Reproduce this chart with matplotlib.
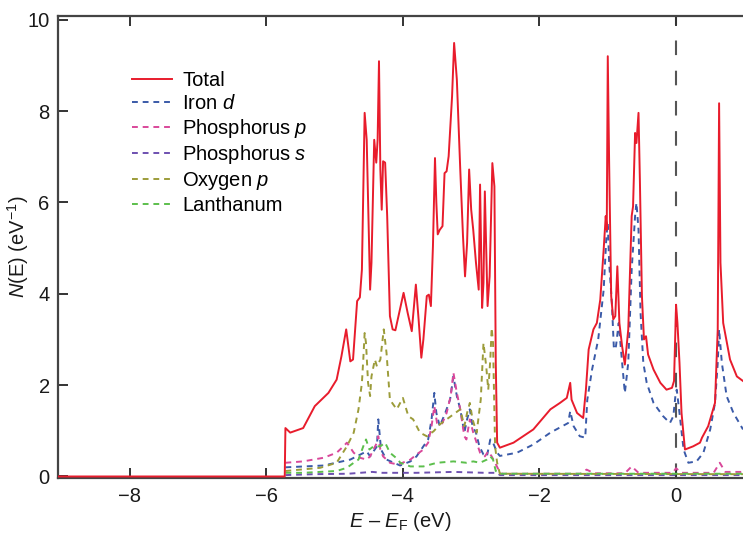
import matplotlib
matplotlib.use('Agg')
import matplotlib.pyplot as plt

plt.rcParams['font.family'] = ['Liberation Sans', 'DejaVu Sans']
plt.rcParams['mathtext.fontset'] = 'custom'
plt.rcParams['mathtext.rm'] = 'Liberation Sans'
plt.rcParams['mathtext.it'] = 'Liberation Sans:italic'

# Полная плотность состояний (Total)
tot_x = [-9.05, -5.73, -5.72, -5.65, -5.46, -5.29, -5.09, -4.97, -4.90, -4.83,
         -4.77, -4.73, -4.69, -4.67, -4.63, -4.60, -4.56, -4.53, -4.48, -4.46,
         -4.42, -4.39, -4.37, -4.35, -4.33, -4.31, -4.29, -4.26, -4.23, -4.19,
         -4.15, -4.11, -3.99, -3.93, -3.87, -3.81, -3.77, -3.73, -3.70, -3.65,
         -3.62, -3.59, -3.56, -3.53, -3.51, -3.49, -3.46, -3.42, -3.39, -3.36,
         -3.33, -3.28, -3.25, -3.21, -3.16, -3.12, -3.09, -3.06, -3.03, -3.00,
         -2.97, -2.93, -2.89, -2.87, -2.84, -2.82, -2.80, -2.76, -2.73, -2.69,
         -2.66, -2.64, -2.62, -2.58, -2.38, -2.09, -1.84, -1.70, -1.60, -1.55,
         -1.53, -1.45, -1.36, -1.32, -1.28, -1.21, -1.16, -1.11, -1.06, -1.03,
         -1.015, -1.00, -0.98, -0.95, -0.92, -0.89, -0.86, -0.83, -0.79, -0.75,
         -0.70, -0.65, -0.63, -0.60, -0.58, -0.55, -0.53, -0.50, -0.47, -0.44,
         -0.41, -0.33, -0.23, -0.14, -0.06, -0.03, 0.0, 0.02, 0.05, 0.08,
         0.13, 0.25, 0.35, 0.38, 0.47, 0.57, 0.61, 0.63, 0.65, 0.69,
         0.79, 0.89, 0.98]
tot_y = [0.0, 0.0, 1.06, 0.96, 1.06, 1.54, 1.83, 2.12, 2.63, 3.22,
         2.52, 2.56, 3.43, 3.84, 3.92, 4.53, 7.96, 7.37, 4.09, 4.68,
         7.37, 6.87, 7.37, 9.09, 6.72, 5.84, 6.90, 6.87, 5.70, 3.51,
         3.22, 3.20, 4.02, 3.58, 3.18, 4.20, 3.44, 2.60, 3.00, 3.95,
         3.98, 3.73, 5.04, 6.97, 5.99, 5.30, 5.40, 5.48, 6.64, 6.68,
         7.01, 8.32, 9.49, 8.69, 6.72, 5.26, 4.38, 5.11, 6.72, 5.84,
         5.40, 4.68, 4.09, 6.39, 3.69, 4.24, 6.24, 3.73, 4.38, 6.86,
         6.35, 2.49, 0.74, 0.63, 0.74, 1.03, 1.47, 1.61, 1.72, 2.05,
         1.68, 1.39, 1.28, 1.90, 2.78, 3.22, 3.36, 3.87, 4.97, 5.70,
         5.40, 9.20, 6.86, 3.95, 3.44, 3.51, 4.60, 3.36, 2.85, 2.45,
         3.22, 5.70, 5.91, 7.52, 7.30, 7.96, 6.50, 3.95, 3.00, 3.07,
         2.67, 2.34, 2.05, 1.90, 1.94, 2.09, 3.76, 3.36, 2.49, 1.39,
         0.59, 0.66, 0.74, 0.85, 1.10, 1.61, 3.22, 8.17, 4.68, 3.36,
         2.56, 2.19, 2.09]

# Iron d
fe_x = [-5.72, -5.16, -4.77, -4.53, -4.48, -4.38, -4.36, -4.32, -4.24, -4.04,
        -3.89, -3.80, -3.70, -3.63, -3.58, -3.54, -3.51, -3.46, -3.38, -3.31,
        -3.26, -3.21, -3.16, -3.10, -3.06, -3.02, -2.98, -2.93, -2.88, -2.82,
        -2.77, -2.72, -2.68, -2.62, -2.58, -2.33, -2.09, -1.84, -1.58, -1.55,
        -1.50, -1.41, -1.33, -1.30, -1.23, -1.14, -1.06, -1.02, -1.00, -0.98,
        -0.94, -0.91, -0.88, -0.84, -0.79, -0.75, -0.70, -0.65, -0.60, -0.58,
        -0.55, -0.52, -0.48, -0.43, -0.33, -0.19, -0.09, -0.04, -0.01, 0.01,
        0.05, 0.11, 0.18, 0.30, 0.40, 0.50, 0.57, 0.61, 0.63, 0.67,
        0.74, 0.84, 0.98]
fe_y = [0.20, 0.24, 0.37, 0.55, 0.44, 0.66, 1.25, 0.59, 0.37, 0.24,
        0.33, 0.44, 0.66, 0.81, 1.25, 1.83, 1.39, 1.10, 1.39, 1.68,
        2.19, 1.76, 1.47, 0.96, 1.25, 1.47, 1.10, 0.96, 0.66, 0.48,
        0.44, 0.81, 0.74, 0.52, 0.45, 0.52, 0.70, 0.96, 1.17, 1.43,
        1.10, 0.88, 0.85, 1.68, 2.34, 3.00, 4.09, 5.26, 5.55, 4.68,
        3.80, 2.78, 2.85, 3.36, 2.49, 1.83, 2.49, 4.53, 5.70, 5.99,
        5.40, 3.58, 2.49, 2.05, 1.61, 1.32, 1.17, 1.32, 1.76, 1.90,
        1.39, 0.59, 0.30, 0.33, 0.52, 1.03, 1.61, 2.49, 3.22, 2.49,
        1.76, 1.39, 1.03]

# Phosphorus p
pp_x = [-5.72, -5.46, -5.16, -4.97, -4.87, -4.82, -4.72, -4.63, -4.53, -4.48,
        -4.43, -4.38, -4.36, -4.33, -4.29, -4.19, -4.07, -3.89, -3.80, -3.70,
        -3.63, -3.58, -3.54, -3.50, -3.43, -3.36, -3.30, -3.26, -3.21, -3.16,
        -3.10, -3.07, -3.02, -2.97, -2.92, -2.87, -2.80, -2.75, -2.70, -2.65,
        -2.60, -2.55, -1.40, -1.31, -1.20, -0.75, -0.65, -0.55, -0.05, 0.0,
        0.08, 0.55, 0.64, 0.72, 0.98]
pp_y = [0.30, 0.33, 0.41, 0.52, 0.66, 0.74, 0.52, 0.41, 0.37, 0.44,
        0.59, 0.74, 0.88, 0.59, 0.44, 0.30, 0.26, 0.37, 0.48, 0.59,
        0.74, 1.10, 1.54, 1.17, 1.14, 1.39, 1.76, 2.27, 1.83, 1.47,
        0.88, 0.81, 1.25, 0.96, 0.74, 0.52, 0.44, 0.55, 0.44, 0.30,
        0.15, 0.06, 0.06, 0.15, 0.07, 0.07, 0.22, 0.08, 0.08, 0.18,
        0.08, 0.08, 0.30, 0.10, 0.10]

# Phosphorus s
ps_x = [-5.72, -5.30, -4.80, -4.45, -4.30, -3.80, -3.26, -2.80, -2.62, -2.58, 0.98]
ps_y = [0.03, 0.05, 0.06, 0.10, 0.08, 0.08, 0.10, 0.08, 0.08, 0.03, 0.03]

# Oxygen p
ox_x = [-5.72, -5.21, -4.97, -4.82, -4.72, -4.65, -4.60, -4.58, -4.56, -4.54,
        -4.51, -4.48, -4.46, -4.41, -4.38, -4.33, -4.28, -4.24, -4.19, -4.09,
        -4.00, -3.92, -3.85, -3.75, -3.65, -3.55, -3.46, -3.36, -3.26, -3.16,
        -3.10, -3.06, -3.02, -2.98, -2.92, -2.86, -2.82, -2.78, -2.75, -2.72,
        -2.70, -2.68, -2.65, -2.62, -2.58, 0.98]
ox_y = [0.12, 0.19, 0.30, 0.66, 0.96, 1.47, 2.05, 2.56, 3.14, 2.92,
        2.05, 1.76, 2.19, 2.56, 2.41, 2.56, 3.22, 2.71, 1.68, 1.47,
        1.72, 1.32, 1.25, 0.96, 0.88, 0.99, 1.14, 1.25, 1.36, 1.47,
        1.10, 1.39, 1.61, 1.25, 0.96, 1.68, 2.92, 2.41, 1.90, 2.56,
        3.25, 2.92, 0.66, 0.30, 0.06, 0.05]

# Lanthanum
la_x = [-5.72, -5.46, -4.97, -4.82, -4.72, -4.65, -4.58, -4.54, -4.49, -4.43,
        -4.33, -4.26, -4.19, -4.07, -4.04, -3.89, -3.70, -3.50, -3.26, -3.07,
        -2.97, -2.87, -2.77, -2.72, -2.68, -2.64, -2.58, 0.98]
la_y = [0.08, 0.08, 0.12, 0.19, 0.30, 0.37, 0.66, 0.81, 0.59, 0.66,
        0.66, 0.74, 0.52, 0.37, 0.30, 0.22, 0.22, 0.30, 0.33, 0.30,
        0.33, 0.30, 0.37, 0.44, 0.37, 0.12, 0.06, 0.06]

fig = plt.figure(figsize=(7.43, 5.34), dpi=100)
ax = fig.add_axes([58 / 743, 55.7 / 534, 685 / 743, 462.3 / 534])

dash = (3, 2.5)
ax.axvline(0, color='#555555', lw=1.5, dashes=(7, 7.5), zorder=1)
ax.plot(fe_x, fe_y, color='#3a5aa8', lw=1.4, dashes=dash, label='Iron $d$', zorder=3)
ax.plot(pp_x, pp_y, color='#d9489a', lw=1.4, dashes=dash, label='Phosphorus $p$', zorder=3)
ax.plot(ps_x, ps_y, color='#6e50b0', lw=1.4, dashes=dash, label='Phosphorus $s$', zorder=3)
ax.plot(ox_x, ox_y, color='#9c9c3a', lw=1.4, dashes=dash, label='Oxygen $p$', zorder=3)
ax.plot(la_x, la_y, color='#5cbf4c', lw=1.4, dashes=dash, label='Lanthanum', zorder=3)
ax.plot(tot_x, tot_y, color='#e81c2c', lw=1.4, label='Total', zorder=4)

ax.set_xlim(-9.05, 0.98)
ax.set_ylim(-0.04, 10.08)
ax.set_xticks([-8, -6, -4, -2, 0])
ax.set_xticklabels(['\u22128', '\u22126', '\u22124', '\u22122', '0'])
ax.set_yticks([0, 2, 4, 6, 8, 10])

for side in ['left', 'bottom', 'top']:
    ax.spines[side].set_color('#444444')
    ax.spines[side].set_linewidth(1.6)
ax.spines['right'].set_visible(False)

ax.tick_params(axis='both', direction='in', length=7, width=1.4, color='#333333',
               labelsize=14.5, labelcolor='#1a1a1a', pad=6)
ax.xaxis.set_tick_params(which='major', top=True, labeltop=False)

ax.set_xlabel('$E$ \u2013 $E_{\\mathrm{F}}$ (eV)', fontsize=14.5, color='#1a1a1a', labelpad=3)
ax.set_ylabel('$N$(E) (eV$^{\\mathrm{\u2212}1}$)', fontsize=14.5, color='#1a1a1a')
ax.yaxis.set_label_coords(-0.04, 0.5)

handles, labels = ax.get_legend_handles_labels()
order = [5, 0, 1, 2, 3, 4]
ax.legend([handles[i] for i in order], [labels[i] for i in order],
          loc='upper left', bbox_to_anchor=(0.108, 0.88), frameon=False,
          fontsize=14.5, handlelength=2.0, handletextpad=0.5, labelspacing=0.18,
          borderpad=0, borderaxespad=0)

plt.savefig('out.png', dpi=100)
